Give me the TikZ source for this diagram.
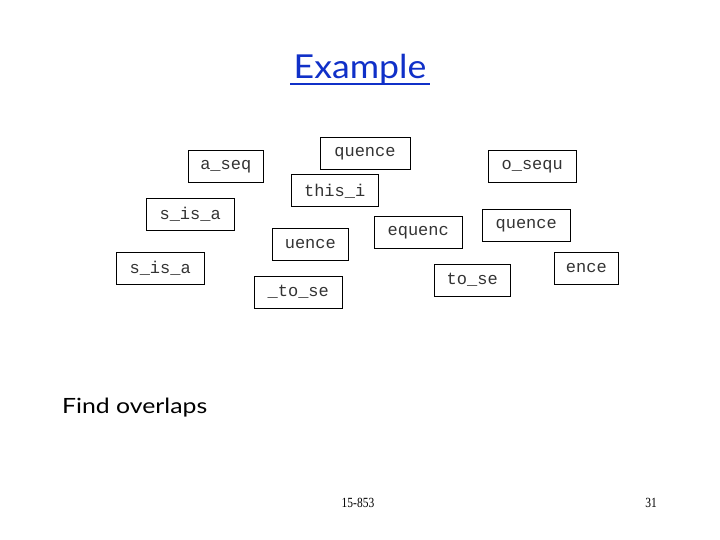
\documentclass[tikz,border=0pt]{standalone}
\usepackage{fontspec}
\setmainfont{Liberation Serif}
\newfontfamily\monof{Liberation Mono}
\newfontfamily\titlef{Lato}
\definecolor{titleblue}{RGB}{16,48,200}
\begin{document}
\begin{tikzpicture}[x=1pt,y=-1pt,
  frag/.style={draw=black,line width=0.9pt,minimum height=32pt,inner sep=0pt,
    font=\monof\fontsize{17}{17}\selectfont,text=black!80}]
\useasboundingbox[fill=white] (0,0) rectangle (720,540);
\node[font=\titlef\fontsize{33}{33}\selectfont\addfontfeature{FakeStretch=1.08},text=titleblue,inner sep=0pt,anchor=base] (title) at (360,79) {Example};
\coordinate (ul1) at (290,84.5);
\coordinate (ul2) at (430,84.5);
\draw[titleblue,line width=2pt] (ul1) -- (ul2);
\node[frag,minimum width=75pt] (n1) at (225.8,166.5) {a\_seq};
\node[frag,minimum width=90pt] (n2) at (365,153.6) {quence};
\node[frag,minimum width=87pt] (n3) at (334.7,190.8) {this\_i};
\node[frag,minimum width=88pt] (n4) at (190.2,214.2) {s\_is\_a};
\node[frag,minimum width=88pt] (n5) at (160.2,268.3) {s\_is\_a};
\node[frag,minimum width=76pt] (n6) at (310.3,244.2) {uence};
\node[frag,minimum width=88pt] (n7) at (298.3,292.2) {\_to\_se};
\node[frag,minimum width=88pt] (n8) at (532.2,166.5) {o\_sequ};
\node[frag,minimum width=88pt] (n9) at (418.2,232.2) {equenc};
\node[frag,minimum width=88pt] (n10) at (526.2,225.9) {quence};
\node[frag,minimum width=76pt] (n11) at (472.2,280.2) {to\_se};
\node[frag,minimum width=64pt] (n12) at (586.3,268.2) {ence};
\node[font=\titlef\fontsize{21}{21}\selectfont\addfontfeature{FakeStretch=1.18},anchor=base west,inner sep=0pt] (find) at (62,413) {Find overlaps};
\node[font=\fontsize{14}{14}\selectfont\addfontfeature{FakeStretch=0.82},inner sep=0pt] (foot) at (358,503) {15-853};
\node[font=\fontsize{14}{14}\selectfont\addfontfeature{FakeStretch=0.82},inner sep=0pt] (page) at (651,503) {31};
\end{tikzpicture}
\end{document}
